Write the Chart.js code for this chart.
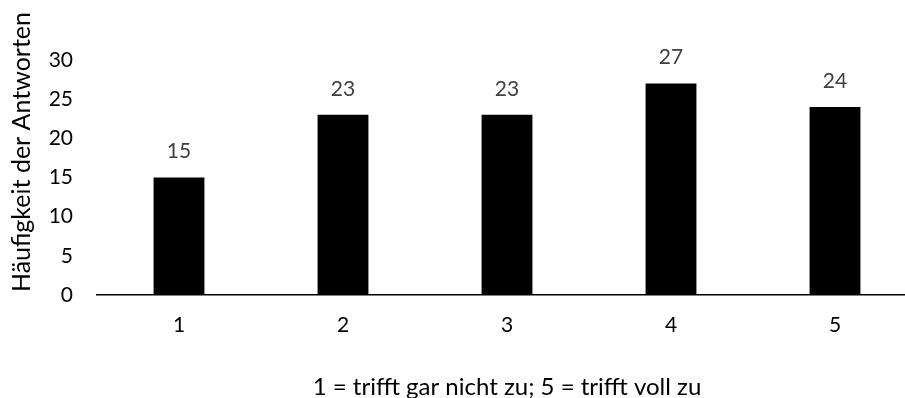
<!DOCTYPE html>
<html>
<head>
<meta charset="utf-8">
<script src="https://cdn.jsdelivr.net/npm/chart.js@4.4.1/dist/chart.umd.min.js"></script>
<style>
  html, body { margin: 0; padding: 0; background: #fff; overflow: hidden; }
  #wrap { width: 905px; height: 398px; overflow: hidden; }
</style>
</head>
<body>
<div id="wrap"><canvas id="chart" width="920" height="398"></canvas></div>
<script>
// Daten
var categories = ["1", "2", "3", "4", "5"];
var counts = [15, 23, 23, 27, 24];
var yTicks = [0, 5, 10, 15, 20, 25, 30];
var yTitle = "Häufigkeit der Antworten";
var xTitle = "1 = trifft gar nicht zu; 5 = trifft voll zu";

var fontFamily = "Lato, 'Open Sans', sans-serif";

// Werte über den Balken + Achsentitel
var labelPlugin = {
    id: "labels",
    afterDatasetsDraw: function (chart) {
        var ctx = chart.ctx;
        var meta = chart.getDatasetMeta(0);
        ctx.save();
        ctx.fillStyle = "#404040";
        ctx.font = "21px " + fontFamily;
        ctx.textAlign = "center";
        ctx.textBaseline = "middle";
        meta.data.forEach(function (bar, i) {
            ctx.fillText(counts[i], bar.x, bar.y - 26);
        });

        var area = chart.chartArea;
        ctx.fillStyle = "#000";
        ctx.font = "24px " + fontFamily;
        ctx.fillText(xTitle, (area.left + area.right) / 2, 387);

        ctx.font = "25px " + fontFamily;
        ctx.translate(22, 152);
        ctx.rotate(-Math.PI / 2);
        ctx.fillText(yTitle, 0, 0);
        ctx.restore();
    }
};

var ctx = document.getElementById("chart").getContext("2d");

new Chart(ctx, {
    type: "bar",
    data: {
        labels: categories,
        datasets: [{
            data: counts,
            backgroundColor: "#000",
            borderWidth: 0,
            categoryPercentage: 1,
            barPercentage: 0.31
        }]
    },
    options: {
        responsive: false,
        animation: false,
        layout: { padding: { top: 60, right: 3, left: 0, bottom: 0 } },
        plugins: {
            legend: { display: false },
            tooltip: { enabled: false }
        },
        scales: {
            x: {
                grid: { display: false, drawTicks: false, tickLength: 0 },
                border: { display: true, color: "#000", width: 1.5 },
                ticks: {
                    color: "#000",
                    padding: 18,
                    font: { family: fontFamily, size: 21 }
                },
                afterFit: function (scale) { scale.height = 103; }
            },
            y: {
                min: 0,
                max: 30,
                afterBuildTicks: function (scale) {
                    scale.ticks = yTicks.map(function (v) { return { value: v }; });
                },
                grid: { display: false, drawTicks: false, tickLength: 0 },
                border: { display: false },
                ticks: {
                    color: "#000",
                    padding: 24,
                    font: { family: fontFamily, size: 21 }
                },
                afterFit: function (scale) { scale.width = 97; }
            }
        }
    },
    plugins: [labelPlugin]
});
</script>
</body>
</html>
